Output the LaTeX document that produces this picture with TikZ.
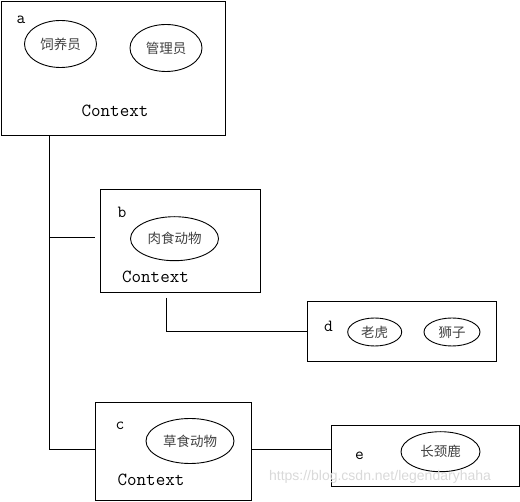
\documentclass[tikz,border=0pt]{standalone}
\usepackage{fontspec}
\newfontfamily\cjk{Noto Sans CJK SC}
\usetikzlibrary{positioning,shapes.geometric}
\begin{document}
\begin{tikzpicture}[x=1pt,y=-1pt,line width=0.9pt,
	box/.style={draw,rectangle,inner sep=0pt},
	role/.style={draw,ellipse,inner sep=0pt,font=\cjk\fontsize{13.5}{15}\selectfont,text=black!75},
	tag/.style={font=\ttfamily\fontsize{17}{19}\selectfont},
	ctx/.style={font=\ttfamily\fontsize{18.5}{20}\selectfont}]
	\useasboundingbox (0,0) rectangle (520,502);
	% the five rooms
	\node[box,minimum width=224pt,minimum height=133.5pt] (a) at (113.5,68.25) {};
	\node[box,minimum width=160.5pt,minimum height=103pt] (b) at (180.25,241) {};
	\node[box,minimum width=189pt,minimum height=59.5pt] (d) at (402,331.25) {};
	\node[box,minimum width=156pt,minimum height=98pt] (c) at (173.5,451.5) {};
	\node[box,minimum width=188pt,minimum height=61.5pt] (e) at (425.5,455.75) {};
	% a
	\node[tag] (la) at (21,20) {a};
	\node[role,minimum width=72pt,minimum height=47pt] (feeder) at (60.5,44) {饲养员};
	\node[role,minimum width=72pt,minimum height=47pt] (keeper) at (166,48) {管理员};
	\node[ctx] (ca) at (115,111) {Context};
	% b
	\node[tag] (lb) at (122,212) {b};
	\node[role,minimum width=88pt,minimum height=44pt] (meat) at (174.5,238.7) {肉食动物};
	\node[ctx] (cb) at (155.5,276.5) {Context};
	% d
	\node[tag] (ld) at (328.5,326) {d};
	\node[role,minimum width=54pt,minimum height=28pt] (tiger) at (374.7,332) {老虎};
	\node[role,minimum width=56pt,minimum height=28pt] (lion) at (452,332) {狮子};
	% c
	\node[tag] (lc) at (120,426) {c};
	\node[role,minimum width=88pt,minimum height=45pt] (grass) at (190,441) {草食动物};
	\node[ctx] (cc) at (151,480) {Context};
	% e
	\node[tag] (le) at (359.5,456) {e};
	\node[role,minimum width=79pt,minimum height=40pt] (giraffe) at (440.5,451.7) {长颈鹿};
	% lines
	\coordinate (tr) at (49,0);
	\coordinate (bb) at (95,237.5);
	\coordinate (bd) at (166.5,298);
	\coordinate (ce) at (0,449.5);
	\draw (a.south -| tr) -- (tr |- ce) -- (c.west |- ce);
	\draw (tr |- bb) -- (bb);
	\draw (bd) |- (d.west);
	\draw (c.east |- ce) -- (e.west |- ce);
	\node[font=\fontspec{Liberation Sans}\fontsize{14}{16}\selectfont,text=black!15] (wm) at (380,477) {https://blog.csdn.net/legendaryhaha};
\end{tikzpicture}
\end{document}
